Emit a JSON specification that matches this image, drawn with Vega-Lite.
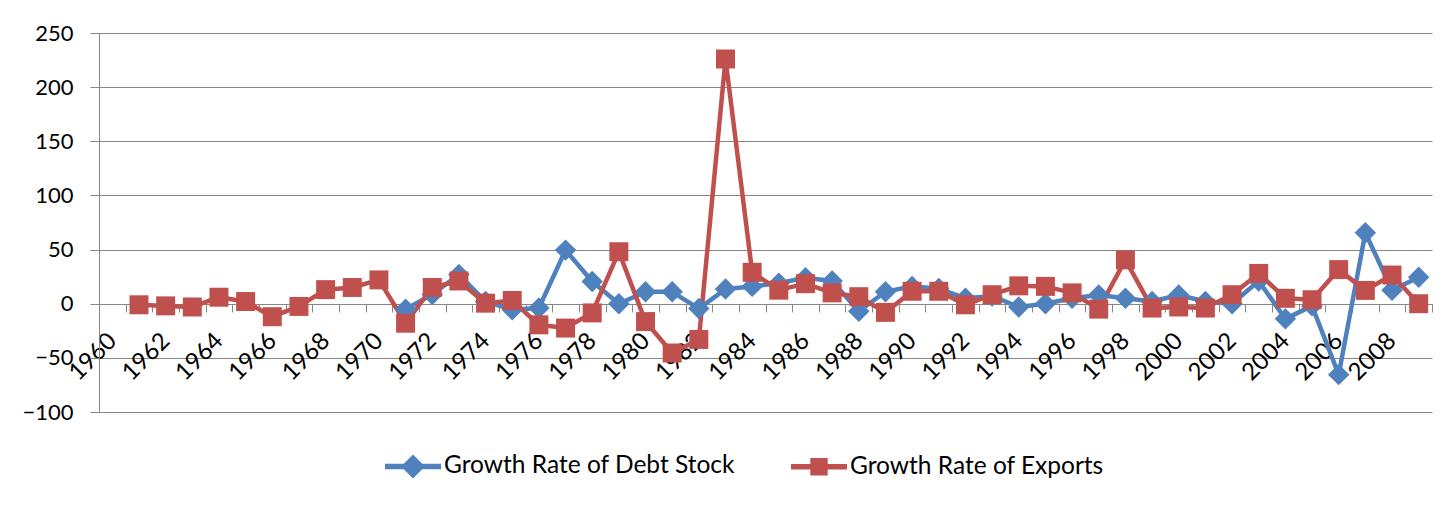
{
  "$schema": "https://vega.github.io/schema/vega-lite/v6.json",
  "autosize": "none",
  "width": 1333,
  "height": 379,
  "padding": {"left": 99, "top": 33, "right": 20, "bottom": 93},
  "background": "white",
  "config": {
    "view": {"stroke": null},
    "font": "Lato",
    "axis": {"gridColor": "#868686", "domainColor": "#868686", "tickColor": "#868686", "labelColor": "#000000", "labelFont": "Lato"}
  },
  "data": {"values": [
    {"year": "1971", "series": "Growth Rate of Debt Stock", "value": -5},
    {"year": "1972", "series": "Growth Rate of Debt Stock", "value": 8.5},
    {"year": "1973", "series": "Growth Rate of Debt Stock", "value": 27},
    {"year": "1974", "series": "Growth Rate of Debt Stock", "value": 2},
    {"year": "1975", "series": "Growth Rate of Debt Stock", "value": -5.5},
    {"year": "1976", "series": "Growth Rate of Debt Stock", "value": -4},
    {"year": "1977", "series": "Growth Rate of Debt Stock", "value": 49.5},
    {"year": "1978", "series": "Growth Rate of Debt Stock", "value": 20.5},
    {"year": "1979", "series": "Growth Rate of Debt Stock", "value": 0},
    {"year": "1980", "series": "Growth Rate of Debt Stock", "value": 11},
    {"year": "1981", "series": "Growth Rate of Debt Stock", "value": 11},
    {"year": "1982", "series": "Growth Rate of Debt Stock", "value": -4.5},
    {"year": "1983", "series": "Growth Rate of Debt Stock", "value": 13.5},
    {"year": "1984", "series": "Growth Rate of Debt Stock", "value": 16},
    {"year": "1985", "series": "Growth Rate of Debt Stock", "value": 19},
    {"year": "1986", "series": "Growth Rate of Debt Stock", "value": 24},
    {"year": "1987", "series": "Growth Rate of Debt Stock", "value": 21},
    {"year": "1988", "series": "Growth Rate of Debt Stock", "value": -7},
    {"year": "1989", "series": "Growth Rate of Debt Stock", "value": 11},
    {"year": "1990", "series": "Growth Rate of Debt Stock", "value": 16},
    {"year": "1991", "series": "Growth Rate of Debt Stock", "value": 14},
    {"year": "1992", "series": "Growth Rate of Debt Stock", "value": 5},
    {"year": "1993", "series": "Growth Rate of Debt Stock", "value": 7},
    {"year": "1994", "series": "Growth Rate of Debt Stock", "value": -3},
    {"year": "1995", "series": "Growth Rate of Debt Stock", "value": 0},
    {"year": "1996", "series": "Growth Rate of Debt Stock", "value": 5},
    {"year": "1997", "series": "Growth Rate of Debt Stock", "value": 8},
    {"year": "1998", "series": "Growth Rate of Debt Stock", "value": 5},
    {"year": "1999", "series": "Growth Rate of Debt Stock", "value": 2},
    {"year": "2000", "series": "Growth Rate of Debt Stock", "value": 8},
    {"year": "2001", "series": "Growth Rate of Debt Stock", "value": 2},
    {"year": "2002", "series": "Growth Rate of Debt Stock", "value": 0},
    {"year": "2003", "series": "Growth Rate of Debt Stock", "value": 21},
    {"year": "2004", "series": "Growth Rate of Debt Stock", "value": -14},
    {"year": "2005", "series": "Growth Rate of Debt Stock", "value": -2},
    {"year": "2006", "series": "Growth Rate of Debt Stock", "value": -65.5},
    {"year": "2007", "series": "Growth Rate of Debt Stock", "value": 65.5},
    {"year": "2008", "series": "Growth Rate of Debt Stock", "value": 12.5},
    {"year": "2009", "series": "Growth Rate of Debt Stock", "value": 24.5},
    {"year": "1961", "series": "Growth Rate of Exports", "value": -1},
    {"year": "1962", "series": "Growth Rate of Exports", "value": -2},
    {"year": "1963", "series": "Growth Rate of Exports", "value": -3},
    {"year": "1964", "series": "Growth Rate of Exports", "value": 6},
    {"year": "1965", "series": "Growth Rate of Exports", "value": 2},
    {"year": "1966", "series": "Growth Rate of Exports", "value": -12},
    {"year": "1967", "series": "Growth Rate of Exports", "value": -2.5},
    {"year": "1968", "series": "Growth Rate of Exports", "value": 13},
    {"year": "1969", "series": "Growth Rate of Exports", "value": 15},
    {"year": "1970", "series": "Growth Rate of Exports", "value": 22},
    {"year": "1971", "series": "Growth Rate of Exports", "value": -18},
    {"year": "1972", "series": "Growth Rate of Exports", "value": 15},
    {"year": "1973", "series": "Growth Rate of Exports", "value": 21},
    {"year": "1974", "series": "Growth Rate of Exports", "value": 0.5},
    {"year": "1975", "series": "Growth Rate of Exports", "value": 3},
    {"year": "1976", "series": "Growth Rate of Exports", "value": -19.5},
    {"year": "1977", "series": "Growth Rate of Exports", "value": -22.5},
    {"year": "1978", "series": "Growth Rate of Exports", "value": -8.5},
    {"year": "1979", "series": "Growth Rate of Exports", "value": 48},
    {"year": "1980", "series": "Growth Rate of Exports", "value": -16.5},
    {"year": "1981", "series": "Growth Rate of Exports", "value": -45.5},
    {"year": "1982", "series": "Growth Rate of Exports", "value": -33},
    {"year": "1983", "series": "Growth Rate of Exports", "value": 226},
    {"year": "1984", "series": "Growth Rate of Exports", "value": 29},
    {"year": "1985", "series": "Growth Rate of Exports", "value": 12.5},
    {"year": "1986", "series": "Growth Rate of Exports", "value": 18.5},
    {"year": "1987", "series": "Growth Rate of Exports", "value": 10},
    {"year": "1988", "series": "Growth Rate of Exports", "value": 6.5},
    {"year": "1989", "series": "Growth Rate of Exports", "value": -8},
    {"year": "1990", "series": "Growth Rate of Exports", "value": 11.5},
    {"year": "1991", "series": "Growth Rate of Exports", "value": 11.5},
    {"year": "1992", "series": "Growth Rate of Exports", "value": -1},
    {"year": "1993", "series": "Growth Rate of Exports", "value": 8.3},
    {"year": "1994", "series": "Growth Rate of Exports", "value": 16.5},
    {"year": "1995", "series": "Growth Rate of Exports", "value": 16},
    {"year": "1996", "series": "Growth Rate of Exports", "value": 10},
    {"year": "1997", "series": "Growth Rate of Exports", "value": -5},
    {"year": "1998", "series": "Growth Rate of Exports", "value": 40.5},
    {"year": "1999", "series": "Growth Rate of Exports", "value": -4},
    {"year": "2000", "series": "Growth Rate of Exports", "value": -3},
    {"year": "2001", "series": "Growth Rate of Exports", "value": -4},
    {"year": "2002", "series": "Growth Rate of Exports", "value": 8.3},
    {"year": "2003", "series": "Growth Rate of Exports", "value": 28},
    {"year": "2004", "series": "Growth Rate of Exports", "value": 5},
    {"year": "2005", "series": "Growth Rate of Exports", "value": 3.7},
    {"year": "2006", "series": "Growth Rate of Exports", "value": 31.5},
    {"year": "2007", "series": "Growth Rate of Exports", "value": 12.3},
    {"year": "2008", "series": "Growth Rate of Exports", "value": 26.5},
    {"year": "2009", "series": "Growth Rate of Exports", "value": 0}
  ]},
  "encoding": {
    "x": {
      "field": "year", "type": "ordinal", "bandPosition": 0.5,
      "scale": {"type": "band", "paddingInner": 0, "paddingOuter": 0,
        "domain": ["1960","1961","1962","1963","1964","1965","1966","1967","1968","1969","1970","1971","1972","1973","1974","1975","1976","1977","1978","1979","1980","1981","1982","1983","1984","1985","1986","1987","1988","1989","1990","1991","1992","1993","1994","1995","1996","1997","1998","1999","2000","2001","2002","2003","2004","2005","2006","2007","2008","2009"]},
      "axis": {
        "title": null, "offset": -108, "tickBand": "extent", "grid": false,
        "tickSize": 8, "labelAngle": -45, "labelAlign": "right", "labelBaseline": "middle",
        "labelPadding": 25, "labelFontSize": 24, "labelOverlap": false,
        "labelExpr": "toNumber(datum.value) % 2 == 0 ? datum.value : ''"
      }
    },
    "y": {
      "field": "value", "type": "quantitative",
      "scale": {"domain": [-100, 250], "nice": false, "zero": false},
      "axis": {"title": null, "values": [-100, -50, 0, 50, 100, 150, 200, 250], "tickSize": 9, "labelPadding": 17, "labelFontSize": 22, "grid": true, "domain": true}
    },
    "color": {
      "field": "series", "type": "nominal",
      "scale": {"domain": ["Growth Rate of Debt Stock", "Growth Rate of Exports"], "range": ["#4F81BD", "#C0504D"]},
      "legend": {
        "title": null, "orient": "none", "direction": "horizontal", "legendX": 286, "legendY": 405,
        "labelFontSize": 24.5, "labelFont": "Lato", "labelColor": "#000000", "labelLimit": 0,
        "symbolSize": 3136, "symbolStrokeWidth": 0, "symbolOpacity": 1,
        "symbolType": {"expr": "datum.value === 'Growth Rate of Debt Stock' ? 'M-1,-0.1L-0.33,-0.1L0,-0.43L0.33,-0.1L1,-0.1L1,0.1L0.33,0.1L0,0.43L-0.33,0.1L-1,0.1Z' : 'M-1,-0.1L-0.31,-0.1L-0.31,-0.31L0.31,-0.31L0.31,-0.1L1,-0.1L1,0.1L0.31,0.1L0.31,0.31L-0.31,0.31L-0.31,0.1L-1,0.1Z'"},
        "symbolFillColor": {"expr": "datum.value === 'Growth Rate of Debt Stock' ? '#4F81BD' : '#C0504D'"},
        "labelOffset": 3, "columnPadding": 56, "padding": 0
      }
    }
  },
  "layer": [
    {"mark": {"type": "line", "strokeWidth": 4.5, "strokeJoin": "round"}},
    {"transform": [{"filter": {"field": "series", "equal": "Growth Rate of Debt Stock"}}],
     "mark": {"type": "point", "shape": "diamond", "filled": true, "opacity": 1, "strokeWidth": 0, "size": 460}},
    {"transform": [{"filter": {"field": "series", "equal": "Growth Rate of Exports"}}],
     "mark": {"type": "point", "shape": "square", "filled": true, "opacity": 1, "strokeWidth": 0, "size": 360}}
  ]
}
